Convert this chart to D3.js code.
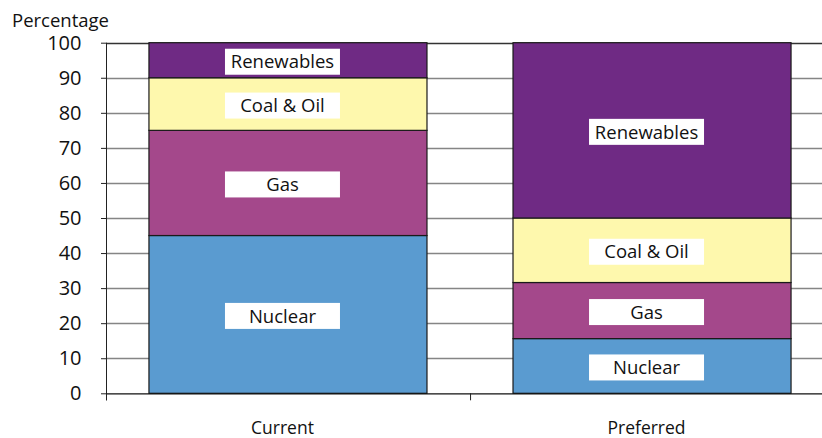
<!DOCTYPE html>
<html><head><meta charset="utf-8">
<script src="https://cdn.jsdelivr.net/npm/d3@7"></script>
<style>body{margin:0;background:#fff}svg{display:block}text{font-family:"Open Sans",sans-serif;fill:#111}</style>
</head><body><svg id="c" width="822" height="438"></svg>
<script>
const categories = ["Current", "Preferred"];
const sources = ["Nuclear", "Gas", "Coal & Oil", "Renewables"];
const nuclear = [45, 15.6];
const gas = [30, 16];
const coalOil = [15, 18.4];
const renewables = [10, 50];
const colors = ["#5A9BD0", "#A4488B", "#FEF8AD", "#6F2A84"];
const yTicks = [0, 10, 20, 30, 40, 50, 60, 70, 80, 90, 100];

(function () {
const rows = categories.map((c, i) => ({cat: c, "Nuclear": nuclear[i], "Gas": gas[i], "Coal & Oil": coalOil[i], "Renewables": renewables[i]}));
const stack = d3.stack().keys(sources)(rows);

const svg = d3.select("#c");
const pLeft = 106, pRight = 834, pTop = 42.7, pBottom = 393.3;
const y = d3.scaleLinear().domain([0, 100]).range([pBottom, pTop]);
const x = d3.scaleBand().domain(categories).range([pLeft, pRight]).paddingInner(0.2363).paddingOuter(0.118);
const color = d3.scaleOrdinal().domain(sources).range(colors);

// gridlines
svg.append("g").selectAll("line").data(yTicks.filter(t => t > 0)).join("line")
  .attr("x1", pLeft).attr("x2", 822)
  .attr("y1", d => Math.round(y(d)) + 0.5).attr("y2", d => Math.round(y(d)) + 0.5)
  .attr("stroke", d => d === 100 ? "#333" : "#858585").attr("stroke-width", 1.3);

// bars
const layers = svg.append("g").selectAll("g").data(stack).join("g").attr("fill", d => color(d.key));
layers.selectAll("rect").data(d => d).join("rect")
  .attr("x", d => x(d.data.cat)).attr("width", x.bandwidth())
  .attr("y", d => y(d[1])).attr("height", d => y(d[0]) - y(d[1]))
  .attr("stroke", "#1a1a1a").attr("stroke-width", 1.2);

// labels
const off = -5.5;
stack.forEach(layer => {
  layer.forEach(d => {
    const cx = x(d.data.cat) + x.bandwidth() / 2 + off;
    const cy = y((d[0] + d[1]) / 2) + 1.5;
    svg.append("rect").attr("x", cx - 57.5).attr("y", cy - 13).attr("width", 115).attr("height", 26).attr("fill", "#fff");
    svg.append("text").attr("x", cx).attr("y", cy).attr("dy", "0.36em").attr("text-anchor", "middle")
      .style("font-size", "18.5px").text(layer.key);
  });
});

// y axis
const yAxis = d3.axisLeft(y).tickValues(yTicks).tickSize(5).tickPadding(19.5);
const gy = svg.append("g").attr("transform", `translate(${pLeft},0)`).call(yAxis);
gy.select(".domain").attr("stroke", "#222").attr("d", `M0.5,${pTop}V${pBottom + 7}`);
gy.selectAll(".tick line").attr("stroke", "#222");
gy.selectAll(".tick text").style("font-size", "20px").attr("fill", "#111").attr("font-family", null);

// x axis
const gx = svg.append("g").attr("transform", `translate(0,${pBottom})`);
gx.append("line").attr("x1", pLeft).attr("x2", 822).attr("y1", 0.5).attr("y2", 0.5).attr("stroke", "#111").attr("stroke-width", 1.3);
const bounds = [pLeft, pLeft + x.step(), pLeft + 2 * x.step()];
gx.selectAll(".bt").data(bounds).join("line").attr("class", "bt")
  .attr("x1", d => d + 0.5).attr("x2", d => d + 0.5).attr("y1", 0).attr("y2", 7).attr("stroke", "#222");
gx.selectAll(".cl").data(categories).join("text").attr("class", "cl")
  .attr("x", d => x(d) + x.bandwidth() / 2 + off).attr("y", 40.5).attr("text-anchor", "middle")
  .style("font-size", "17.5px").text(d => d);

svg.append("text").attr("x", 12).attr("y", 26.5).style("font-size", "18.5px").text("Percentage");
})();
</script></body></html>
